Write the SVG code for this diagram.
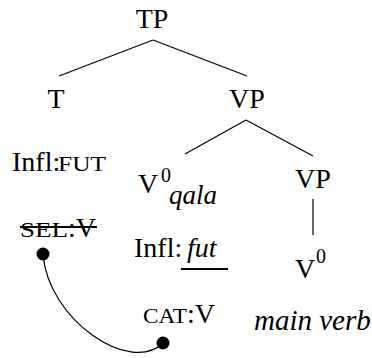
<svg xmlns="http://www.w3.org/2000/svg" width="372" height="358" viewBox="0 0 372 358">
<style>
.e{stroke:#000;stroke-width:1.2;fill:none}
</style>
<g id="connectors">
<line class="e" x1="153" y1="40" x2="59" y2="76"/>
<line class="e" x1="153" y1="40" x2="247" y2="76"/>
<line class="e" x1="246" y1="120" x2="185" y2="154"/>
<line class="e" x1="246" y1="120" x2="313" y2="156"/>
<line class="e" x1="313" y1="199" x2="313" y2="235"/>
<path class="e" d="M43,254 C48,320 130,375 163,343" stroke-width="1.5"/>
</g>
<g id="TP"><text style="font-family:'Liberation Serif',serif;font-size:28px" x="152" y="28" text-anchor="middle">TP</text></g>
<g id="T"><text style="font-family:'Liberation Serif',serif;font-size:28px" x="56" y="108" text-anchor="middle">T</text></g>
<g id="VP1"><text style="font-family:'Liberation Serif',serif;font-size:28px" x="247" y="108" text-anchor="middle">VP</text></g>
<g id="InflFUT"><text style="font-family:'Liberation Serif',serif;font-size:28px" x="12" y="171">Infl:</text><text style="font-family:'Liberation Serif',serif;font-size:22px" x="58" y="171" textLength="48" lengthAdjust="spacingAndGlyphs">FUT</text></g>
<g id="V0qala"><text style="font-family:'Liberation Serif',serif;font-size:28px" x="138" y="193">V</text><text style="font-family:'Liberation Serif',serif;font-size:20px" x="161" y="182">0</text><text style="font-family:'Liberation Serif',serif;font-size:27px;font-style:italic" x="169" y="204">qala</text></g>
<g id="VP2"><text style="font-family:'Liberation Serif',serif;font-size:28px" x="313" y="188" text-anchor="middle">VP</text></g>
<g id="V0"><text style="font-family:'Liberation Serif',serif;font-size:28px" x="295" y="278">V</text><text style="font-family:'Liberation Serif',serif;font-size:20px" x="316" y="263">0</text></g>
<g id="SELV"><text style="font-family:'Liberation Serif',serif;font-size:22px" x="20" y="237" textLength="48" lengthAdjust="spacingAndGlyphs">SEL</text><text style="font-family:'Liberation Serif',serif;font-size:28px" x="68" y="237">:V</text><line x1="20" y1="227" x2="97" y2="227" stroke="#000" stroke-width="2"/><circle cx="43" cy="254" r="6.5"/></g>
<g id="InflFut"><text style="font-family:'Liberation Serif',serif;font-size:28px" x="134" y="257">Infl:</text><text style="font-family:'Liberation Serif',serif;font-size:28px;font-style:italic" x="187" y="257">fut</text><line x1="181" y1="269" x2="228" y2="269" stroke="#000" stroke-width="2"/></g>
<g id="CATV"><text style="font-family:'Liberation Serif',serif;font-size:22px" x="143" y="323" textLength="44" lengthAdjust="spacingAndGlyphs">CAT</text><text style="font-family:'Liberation Serif',serif;font-size:28px" x="187" y="323">:V</text><circle cx="163" cy="343" r="6.5"/></g>
<g id="mainverb"><text style="font-family:'Liberation Serif',serif;font-size:29px;font-style:italic" x="254" y="330">main verb</text></g>
</svg>
